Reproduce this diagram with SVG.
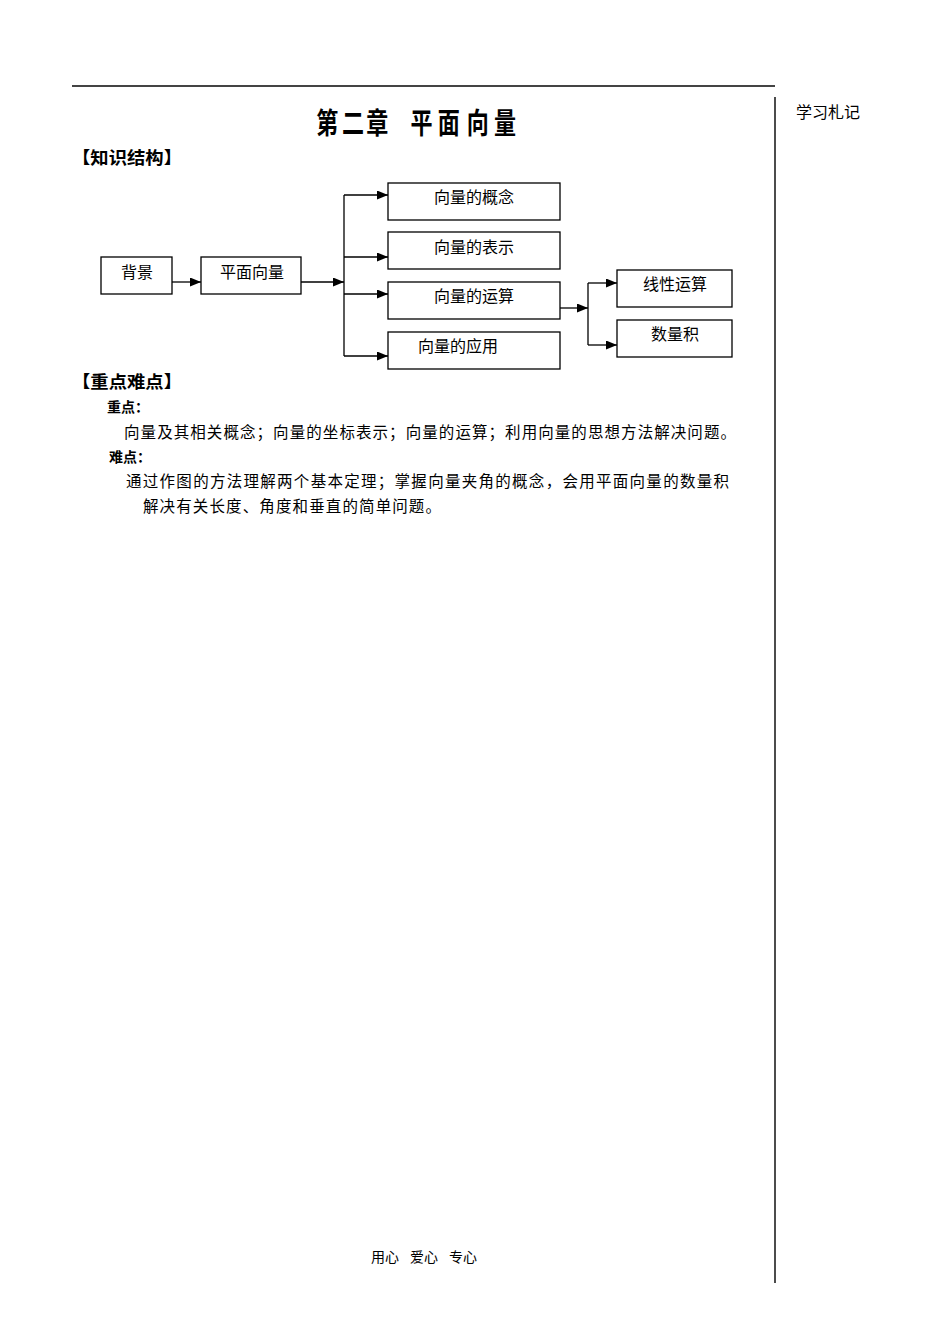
<svg xmlns="http://www.w3.org/2000/svg" width="950" height="1344" viewBox="0 0 950 1344">
<style>
.cn{font-family:"Noto Sans CJK SC","Noto Sans CJK JP",sans-serif;fill:#000}
.box rect{fill:#fff;stroke:#000;stroke-width:1.3}
.box text{font-size:16px;text-anchor:middle}
.hd{font-size:17px;font-weight:bold}
.sub{font-size:14px;font-weight:bold}
.body{font-size:15.5px}
.ft{font-size:14px}
.conn path{fill:none;stroke:#000;stroke-width:1.3}
</style>
<defs>
<marker id="arr" viewBox="0 0 11 9" refX="11" refY="4.5" markerWidth="11" markerHeight="9" markerUnits="userSpaceOnUse" orient="auto">
<path d="M0,0 L11,4.5 L0,9 Z" fill="#000"/>
</marker>
</defs>
<rect width="950" height="1344" fill="#fff"/>
<line x1="72" y1="86" x2="775" y2="86" stroke="#444" stroke-width="2"/>
<line x1="775" y1="97" x2="775" y2="1283" stroke="#111" stroke-width="1.5"/>
<g transform="scale(0.76,1)">
<text class="cn" font-size="29" font-weight="bold" y="134" x="416 450 482 540 576 614 650">第二章平面向量</text>
</g>
<text class="cn" x="796" y="118" font-size="16">学习札记</text>
<text class="cn hd" x="72" y="164" textLength="110" lengthAdjust="spacingAndGlyphs">【知识结构】</text>

<g class="conn">
<path d="M172,282 H201" marker-end="url(#arr)"/>
<path d="M301,282 H344" marker-end="url(#arr)"/>
<path d="M344,195 V356"/>
<path d="M344,195 H388" marker-end="url(#arr)"/>
<path d="M344,257 H388" marker-end="url(#arr)"/>
<path d="M344,294 H388" marker-end="url(#arr)"/>
<path d="M344,356 H388" marker-end="url(#arr)"/>
<path d="M560,308 H588" marker-end="url(#arr)"/>
<path d="M588,283 V345"/>
<path d="M588,283 H617" marker-end="url(#arr)"/>
<path d="M588,345 H617" marker-end="url(#arr)"/>
</g>

<g id="n-bj" class="box"><rect x="101" y="257" width="71" height="37"/><text class="cn" x="137" y="278">背景</text></g>
<g id="n-pmxl" class="box"><rect x="201" y="257" width="100" height="37"/><text class="cn" x="252" y="278">平面向量</text></g>
<g id="n-gn" class="box"><rect x="388" y="183" width="172" height="37"/><text class="cn" x="474" y="203">向量的概念</text></g>
<g id="n-bs" class="box"><rect x="388" y="232" width="172" height="37"/><text class="cn" x="474" y="253">向量的表示</text></g>
<g id="n-ys" class="box"><rect x="388" y="282" width="172" height="37"/><text class="cn" x="474" y="302">向量的运算</text></g>
<g id="n-yy" class="box"><rect x="388" y="332" width="172" height="37"/><text class="cn" x="458" y="352">向量的应用</text></g>
<g id="n-xx" class="box"><rect x="617" y="270" width="115" height="37"/><text class="cn" x="675" y="290">线性运算</text></g>
<g id="n-slj" class="box"><rect x="617" y="320" width="115" height="37"/><text class="cn" x="675" y="340">数量积</text></g>

<text class="cn hd" x="72" y="388" textLength="110" lengthAdjust="spacingAndGlyphs">【重点难点】</text>
<text class="cn sub" x="107" y="412">重点：</text>
<text class="cn body" x="124" y="438" textLength="612" lengthAdjust="spacing">向量及其相关概念；向量的坐标表示；向量的运算；利用向量的思想方法解决问题。</text>
<text class="cn sub" x="109" y="462">难点：</text>
<text class="cn body" x="126" y="487" textLength="603" lengthAdjust="spacing">通过作图的方法理解两个基本定理；掌握向量夹角的概念，会用平面向量的数量积</text>
<text class="cn body" x="143" y="512" textLength="298" lengthAdjust="spacing">解决有关长度、角度和垂直的简单问题。</text>

<g id="footer">
<text class="cn ft" x="371" y="1262">用心</text>
<text class="cn ft" x="410" y="1262">爱心</text>
<text class="cn ft" x="449" y="1262">专心</text>
</g>
</svg>
